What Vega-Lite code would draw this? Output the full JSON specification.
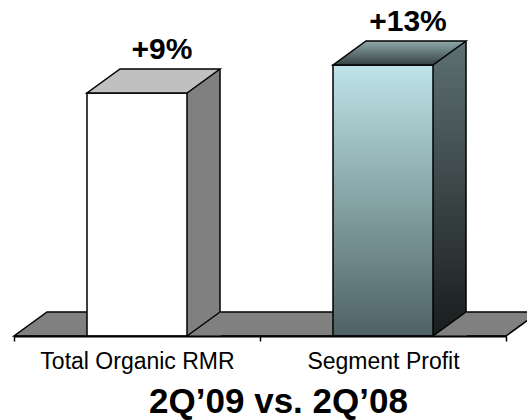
{
  "$schema": "https://vega.github.io/schema/vega-lite/v6.json",
  "width": 492,
  "height": 336,
  "autosize": {"type": "none"},
  "padding": {"left": 14, "top": 0, "right": 21, "bottom": 84},
  "background": "white",
  "config": {"view": {"stroke": null}, "font": "Liberation Sans"},
  "data": {
    "values": [
      {"metric": "Total Organic RMR", "change": 9, "label": "+9%"},
      {"metric": "Segment Profit", "change": 13, "label": "+13%"}
    ]
  },
  "encoding": {
    "x": {
      "field": "metric",
      "type": "nominal",
      "sort": null,
      "scale": {"paddingInner": 0, "paddingOuter": 0},
      "axis": {
        "title": "2Q’09 vs. 2Q’08",
        "labelAngle": 0,
        "labelFontSize": 23,
        "labelFont": "Liberation Sans",
        "labelColor": "black",
        "labelPadding": 9,
        "labelLimit": 400,
        "tickBand": "extent",
        "tickSize": 5,
        "tickColor": "black",
        "tickWidth": 1.5,
        "domainColor": "black",
        "domainWidth": 2,
        "titleFontSize": 35,
        "titleFontWeight": "bold",
        "titleFont": "Liberation Sans",
        "titleColor": "black",
        "titlePadding": 11,
        "titleLimit": 1000,
        "titleX": 264,
        "titleAlign": "center",
        "zindex": 1
      }
    },
    "y": {
      "field": "change",
      "type": "quantitative",
      "scale": {"domain": [-25.7143, 22.2857], "zero": false, "nice": false},
      "axis": null
    }
  },
  "layer": [
    {
      "transform": [{"filter": "datum.metric === 'Total Organic RMR'"}],
      "mark": {
        "type": "point",
        "shape": "M-123,0L369,0L402,-24L-90,-24Z",
        "size": 4,
        "filled": true,
        "fill": "#808080",
        "stroke": "black",
        "strokeWidth": 1.5,
        "opacity": 1
      },
      "encoding": {"y": {"datum": -25.7143, "type": "quantitative"}}
    },
    {
      "mark": {"type": "bar", "width": 33, "xOffset": 66.5, "yOffset": -24, "y2Offset": 0, "strokeWidth": 0},
      "encoding": {
        "y2": {"datum": -25.7143},
        "fill": {
          "condition": {
            "test": "datum.metric === 'Segment Profit'",
            "value": {
              "gradient": "linear", "x1": 0, "y1": 0, "x2": 0, "y2": 1,
              "stops": [
                {"offset": 0, "color": "#5E7072"},
                {"offset": 1, "color": "#191D1D"}
              ]
            }
          },
          "value": "#808080"
        }
      }
    },
    {
      "mark": {
        "type": "point",
        "shape": "M50,0L83,-24L83.6,-24L83.6,0Z",
        "size": 4,
        "filled": true,
        "fill": "#808080",
        "strokeWidth": 0,
        "opacity": 1
      },
      "encoding": {"y": {"datum": -25.7143, "type": "quantitative"}}
    },
    {
      "mark": {
        "type": "point",
        "shape": "M50,0L83,-24",
        "size": 4,
        "filled": false,
        "stroke": "black",
        "strokeWidth": 1.5,
        "opacity": 1
      },
      "encoding": {"y": {"datum": -25.7143, "type": "quantitative"}}
    },
    {
      "mark": {"type": "rule", "xOffset": 83, "yOffset": -24, "y2Offset": -24, "stroke": "black", "strokeWidth": 1.5},
      "encoding": {"y2": {"datum": -25.7143}}
    },
    {
      "mark": {"type": "bar", "width": 100, "stroke": "black", "strokeWidth": 1.5},
      "encoding": {
        "y2": {"datum": -25.7143},
        "fill": {
          "condition": {
            "test": "datum.metric === 'Segment Profit'",
            "value": {
              "gradient": "linear", "x1": 0, "y1": 0, "x2": 0, "y2": 1,
              "stops": [
                {"offset": 0, "color": "#BEE4E7"},
                {"offset": 1, "color": "#4E6265"}
              ]
            }
          },
          "value": "white"
        }
      }
    },
    {
      "mark": {
        "type": "point",
        "shape": "M-50,0L50,0L83,-24L-17,-24Z",
        "size": 4,
        "filled": true,
        "stroke": "black",
        "strokeWidth": 1.5,
        "opacity": 1
      },
      "encoding": {
        "fill": {
          "condition": {
            "test": "datum.metric === 'Segment Profit'",
            "value": {
              "gradient": "linear", "x1": 0, "y1": 0, "x2": 0, "y2": 1,
              "stops": [
                {"offset": 0, "color": "#8FA9A9"},
                {"offset": 1, "color": "#354142"}
              ]
            }
          },
          "value": "#C0C0C0"
        }
      }
    },
    {
      "mark": {
        "type": "text",
        "dx": 25,
        "dy": -34,
        "baseline": "alphabetic",
        "align": "center",
        "fontSize": 30,
        "fontWeight": "bold",
        "font": "Liberation Sans",
        "color": "black"
      },
      "encoding": {"text": {"field": "label"}}
    }
  ]
}
